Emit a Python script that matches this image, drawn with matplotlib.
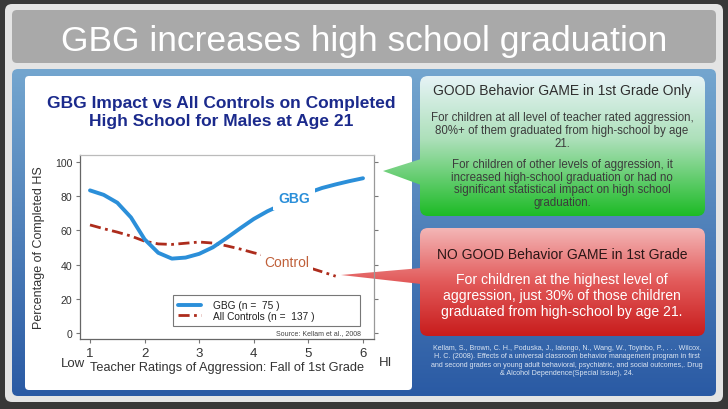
import numpy as np
import matplotlib
matplotlib.use('Agg')
import matplotlib.pyplot as plt
from matplotlib.patches import FancyBboxPatch, Polygon
from matplotlib.colors import to_rgb

plt.rcParams['font.family'] = ['Liberation Sans', 'DejaVu Sans']

# ---------------- data ----------------
slide_title = "GBG increases high school graduation"
chart_title = "GBG Impact vs All Controls on Completed\nHigh School for Males at Age 21"
x_gbg = [1.0, 1.25, 1.5, 1.75, 2.0, 2.25, 2.5, 2.75, 3.0, 3.25, 3.5, 3.75,
         4.0, 4.25, 4.5, 4.75, 5.0, 5.25, 5.5, 5.75, 6.0]
y_gbg = [83.4, 80.8, 76.2, 67.6, 54.8, 46.9, 43.5, 44.1, 46.3, 50.1, 55.5, 61.2,
         66.7, 71.2, 74.9, 78.8, 82.0, 84.8, 86.9, 88.8, 90.5]
x_ctrl = [1.0, 1.25, 1.5, 1.75, 2.0, 2.25, 2.5, 2.75, 3.0, 3.25, 3.5, 3.75,
          4.0, 4.25, 4.5, 4.75, 5.0, 5.25, 5.5]
y_ctrl = [63.2, 61.0, 59.0, 56.7, 53.7, 52.1, 51.8, 52.5, 53.2, 52.6, 51.0, 49.1,
          46.9, 45.0, 43.0, 40.5, 38.3, 35.8, 33.2]
x_ticks = [1, 2, 3, 4, 5, 6]
y_ticks = [0, 20, 40, 60, 80, 100]
legend_labels = ["GBG (n =  75 )", "All Controls (n =  137 )"]
series_labels = ["GBG", "Control"]
y_label = "Percentage of Completed HS"
x_label = "Teacher Ratings of Aggression: Fall of 1st Grade"
x_low, x_high = "Low", "HI"
source_note = "Source: Kellam et al., 2008"
green_head = "GOOD Behavior GAME in 1st Grade Only"
green_p1 = ("For children at all level of teacher rated aggression,\n"
            "80%+ of them graduated from high-school by age\n21.")
green_p2 = ("For children of other levels of aggression, it\n"
            "increased high-school graduation or had no\n"
            "significant statistical impact on high school\ngraduation.")
red_head = "NO GOOD Behavior GAME in 1st Grade"
red_body = ("For children at the highest level of\n"
            "aggression, just 30% of those children\n"
            "graduated from high-school by age 21.")
citation = ("Kellam, S., Brown, C. H., Poduska, J., Ialongo, N., Wang, W., Toyinbo, P., . . . Wilcox,\n"
            "H. C. (2008). Effects of a universal classroom behavior management program in first\n"
            "and second grades on young adult behavioral, psychiatric, and social outcomes,. Drug\n"
            "& Alcohol Dependence(Special Issue), 24.")

# ---------------- figure ----------------
W, H = 728, 410
fig = plt.figure(figsize=(W / 100, H / 100), dpi=100, facecolor='#383838')
bg = fig.add_axes([0, 0, 1, 1])
bg.set_axis_off()


def rbox(x0, y0, x1, y1, r, fc, ec='none', lw=0, z=1):
    p = FancyBboxPatch((x0, y0), x1 - x0, y1 - y0,
                       boxstyle=f"round,pad=0,rounding_size={r}",
                       fc=fc, ec=ec, lw=lw, zorder=z)
    bg.add_patch(p)
    return p


def gradient(clip, x0, y0, x1, y1, stops, z):
    t = np.linspace(0, 1, 256)
    pos = [s[0] for s in stops]
    cols = np.array([to_rgb(s[1]) for s in stops])
    img = np.stack([np.interp(t, pos, cols[:, k]) for k in range(3)], axis=1)[:, None, :]
    im = bg.imshow(img, extent=(x0, x1, y1, y0), aspect='auto', origin='upper',
                   zorder=z, interpolation='bilinear')
    im.set_clip_path(clip)


# frame & title band
rbox(5, 5, 723, 403, 7, '#e4e4e4', z=1)
rbox(12, 11, 716, 64, 5, '#a9a9a9', z=2)
bg.text(364, 42, slide_title, color='white', fontsize=25.5, ha='center', va='center', zorder=3)

# blue panel
bp = rbox(12, 70, 716, 397, 6, 'none', z=2)
gradient(bp, 12, 70, 716, 397, [(0, '#74a6cf'), (1, '#2a5aa4')], 2)

# white chart panel
rbox(25, 77, 412, 391, 4, 'white', z=3)

# green box
gstops = [(0, '#e6f3f6'), (0.45, '#ade0ba'), (1, '#1dbb26')]
gb = rbox(420, 77, 705, 217, 8, 'none', z=4)
gradient(gb, 380, 77, 705, 217, gstops, 4)
gpt = Polygon([(383, 172), (421, 160), (421, 186)], closed=True, fc='none', ec='none', zorder=4)
bg.add_patch(gpt)
gradient(gpt, 380, 77, 705, 217, gstops, 4)

# red box
rstops = [(0, '#f4b6b6'), (0.5, '#e25a5a'), (1, '#c81c1c')]
rb = rbox(420, 229, 705, 337, 8, 'none', z=4)
gradient(rb, 340, 229, 705, 337, rstops, 4)
rpt = Polygon([(341, 276), (421, 269), (421, 285)], closed=True, fc='none', ec='none', zorder=6)
bg.add_patch(rpt)
gradient(rpt, 340, 229, 705, 337, rstops, 6)

# box texts
bg.text(562, 91, green_head, color='#2e2e2e', fontsize=10, ha='center', va='center', zorder=7)
bg.text(562, 131, green_p1, color='#3c3c3c', fontsize=8.3, ha='center', va='center',
        linespacing=1.07, zorder=7)
bg.text(562, 184, green_p2, color='#3c3c3c', fontsize=8.3, ha='center', va='center',
        linespacing=1.07, zorder=7)
bg.text(562, 255, red_head, color='#2a1616', fontsize=10, ha='center', va='center', zorder=7)
bg.text(562, 296, red_body, color='white', fontsize=10.1, ha='center', va='center',
        linespacing=1.18, zorder=7)
bg.text(567, 361, citation, color='#dbe5f2', fontsize=5.1, ha='center', va='center',
        linespacing=1.32, zorder=7)

# chart title and outer labels
bg.text(221, 112.5, chart_title, color='#1b2a8c', fontsize=12.5, fontweight='bold',
        ha='center', va='center', linespacing=1.3, zorder=7)
bg.text(73, 364, x_low, color='#333333', fontsize=9.5, ha='center', va='center', zorder=7)
bg.text(386, 363, x_high, color='#333333', fontsize=9.5, ha='center', va='center', zorder=7)
bg.text(227, 368, x_label, color='#333333', fontsize=9.2, ha='center', va='center', zorder=7)

bg.set_xlim(0, W)
bg.set_ylim(H, 0)

# ---------------- chart axes ----------------
L, R, T, B = 80, 374, 156, 340
ax = fig.add_axes([L / W, 1 - B / H, (R - L) / W, (B - T) / H])
ax.set_zorder(5)
ax.patch.set_alpha(0)

ax.plot(x_gbg, y_gbg, color='#2b8fd9', lw=2.8, solid_capstyle='round',
        label=legend_labels[0], zorder=3)
ax.plot(x_ctrl, y_ctrl, color='#ad2c1c', lw=2.0, linestyle=(0, (4, 1.6, 1, 1.6)),
        label=legend_labels[1], zorder=2)

ax.text(4.74, 79.0, series_labels[0], color='#2b8fd9', fontsize=10, fontweight='bold',
        ha='center', va='center', zorder=4,
        bbox=dict(fc='white', ec='none', pad=3.5))
ax.text(4.6, 41.7, series_labels[1], color='#c0603a', fontsize=10,
        ha='center', va='center', zorder=4,
        bbox=dict(fc='white', ec='none', pad=2.5))

ax.set_xlim(1 - 10 / 54.6, 6 + 11 / 54.6)
ax.set_ylim(-6 / 1.71, 100 + 7 / 1.71)
ax.set_xticks(x_ticks)
ax.set_yticks(y_ticks)
ax.tick_params(axis='x', direction='out', length=3, width=0.8, color='#777777',
               labelsize=9.5, labelcolor='#333333', pad=3)
ax.tick_params(axis='y', direction='out', length=3, width=0.8, color='#777777',
               labelsize=7.6, labelcolor='#333333', pad=2.5, right=True)
ax.set_ylabel(y_label, fontsize=9, color='#333333')
ax.yaxis.set_label_coords((45 - L) / (R - L), 0.5)

ax.spines['left'].set_color('#666666')
ax.spines['bottom'].set_color('#666666')
ax.spines['top'].set_color('#bbbbbb')
ax.spines['right'].set_color('#999999')
for s in ax.spines.values():
    s.set_linewidth(0.9)

leg = ax.legend(loc='lower left',
                bbox_to_anchor=((173 - L) / (R - L), (B - 327) / (B - T),
                                (360 - 173) / (R - L), (327 - 299) / (B - T)),
                mode='expand', fontsize=7.3, frameon=True, fancybox=False,
                edgecolor='#555555', handlelength=2.3, handletextpad=1.1,
                borderpad=0.5, labelspacing=0.05, borderaxespad=0)
leg.get_frame().set_linewidth(0.8)
for t in leg.get_texts():
    t.set_color('#222222')

ax.text(5.97, 0.3, source_note, color='#444444', fontsize=5, ha='right', va='center', zorder=4)

fig.savefig('out.png', dpi=100, facecolor=fig.get_facecolor())
